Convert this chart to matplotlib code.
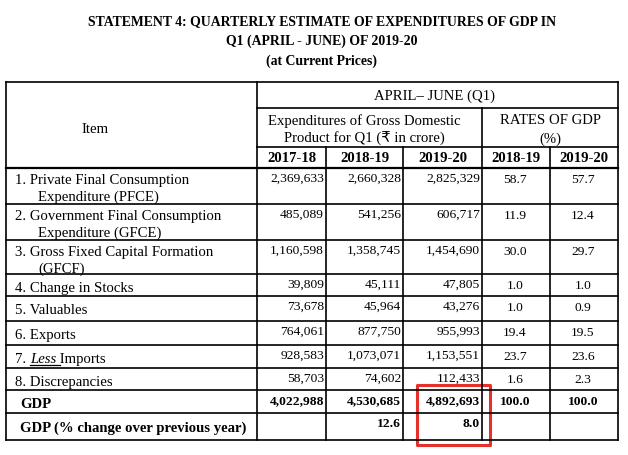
import matplotlib
matplotlib.use("Agg")
import matplotlib.pyplot as plt
from matplotlib.patches import Rectangle

plt.rcParams['font.family'] = ['Liberation Serif', 'DejaVu Sans']

# table contents
title_lines = ["STATEMENT 4: QUARTERLY ESTIMATE OF EXPENDITURES OF GDP IN",
               "Q1 (APRIL - JUNE) OF 2019-20",
               "(at Current Prices)"]
items = ["1. Private Final Consumption\nExpenditure (PFCE)",
         "2. Government Final Consumption\nExpenditure (GFCE)",
         "3. Gross Fixed Capital Formation\n(GFCF)",
         "4. Change in Stocks",
         "5. Valuables",
         "6. Exports",
         "7. Less Imports",
         "8. Discrepancies",
         "GDP",
         "GDP (% change over previous year)"]
years_gdp = ["2017-18", "2018-19", "2019-20"]
years_rate = ["2018-19", "2019-20"]
gdp_1718 = [2369633, 485089, 1160598, 39809, 73678, 764061, 928583, 58703, 4022988]
gdp_1819 = [2660328, 541256, 1358745, 45111, 45964, 877750, 1073071, 74602, 4530685]
gdp_1920 = [2825329, 606717, 1454690, 47805, 43276, 955993, 1153551, 112433, 4892693]
rate_1819 = [58.7, 11.9, 30.0, 1.0, 1.0, 19.4, 23.7, 1.6, 100.0]
rate_1920 = [57.7, 12.4, 29.7, 1.0, 0.9, 19.5, 23.6, 2.3, 100.0]
growth = [None, 12.6, 8.0]

# grid geometry (pixels)
col_x = [6, 257, 326, 403, 482, 550, 618]
row_y = [169, 205, 241, 275, 297, 322, 346, 369, 391, 414, 441]
top_y, q1_y, sub_y = 83, 109, 148

fig = plt.figure(figsize=(6.28, 4.56), dpi=100)
ax = fig.add_axes([0, 0, 1, 1])
ax.set_xlim(0, 628)
ax.set_ylim(456, 0)
ax.axis('off')

lw = 1.2
k = 'black'
# outer and header lines
ax.plot([col_x[0], col_x[-1]], [top_y, top_y], color=k, lw=lw)
ax.plot([col_x[1], col_x[-1]], [q1_y, q1_y], color=k, lw=lw)
ax.plot([col_x[1], col_x[-1]], [sub_y, sub_y], color=k, lw=lw)
for y in row_y:
    ax.plot([col_x[0], col_x[-1]], [y, y], color=k, lw=lw + (0.4 if y == row_y[0] else 0))
for x in (col_x[0], col_x[1], col_x[-1]):
    ax.plot([x, x], [top_y, row_y[-1]], color=k, lw=lw)
ax.plot([col_x[4], col_x[4]], [q1_y, row_y[-1]], color=k, lw=lw)
for x in (col_x[2], col_x[3], col_x[5]):
    ax.plot([x, x], [sub_y, row_y[-1]], color=k, lw=lw)

# title
for i, t in enumerate(title_lines):
    ax.text(322, 22 + i * 19.5, t, ha='center', va='center', fontsize=9.9,
            fontweight='bold')

fs = 10.6
ax.text(95, 130, "Item", ha='center', va='center', fontsize=fs)
ax.text(434, 96, "APRIL\u2013 JUNE (Q1)", ha='center', va='center', fontsize=fs)
ax.text(364, 121, "Expenditures of Gross Domestic", ha='center', va='center', fontsize=fs)
ax.text(364, 139, "Product for Q1 (\u20b9 in crore)", ha='center', va='center', fontsize=fs)
ax.text(550, 121, "RATES OF GDP", ha='center', va='center', fontsize=fs)
ax.text(550, 139, "(%)", ha='center', va='center', fontsize=fs)
for i, yr in enumerate(years_gdp + years_rate):
    ax.text((col_x[i + 1] + col_x[i + 2]) / 2, 159, yr, ha='center', va='center',
            fontsize=fs, fontweight='bold')

fig.canvas.draw()
renderer = fig.canvas.get_renderer()
inv = ax.transData.inverted()

# row labels
for r, label in enumerate(items):
    top = row_y[r]
    bold = r >= 8
    x0 = 20 if bold else 15
    lines = label.split("\n")
    if len(lines) == 2:
        ax.text(x0, top + 12, lines[0], ha='left', va='center', fontsize=fs)
        ax.text(38, top + 28, lines[1], ha='left', va='center', fontsize=fs)
    elif label.startswith("7."):
        t1 = ax.text(x0, top + 14, "7. ", ha='left', va='center', fontsize=fs)
        bb = t1.get_window_extent(renderer)
        xa = inv.transform((bb.x1, 0))[0]
        t2 = ax.text(xa, top + 14, "Less", ha='left', va='center', fontsize=fs,
                     style='italic')
        bb2 = t2.get_window_extent(renderer)
        xb = inv.transform((bb2.x1, 0))[0]
        ax.text(xb, top + 14, " Imports", ha='left', va='center', fontsize=fs)
        ax.plot([xa, inv.transform((bb2.x1 + 4, 0))[0]], [top + 20, top + 20],
                color=k, lw=0.9)
    else:
        ax.text(x0, top + 14, label, ha='left', va='center', fontsize=fs,
                fontweight='bold' if bold else 'normal')

# numbers
nfs = 9.7
for r in range(len(gdp_1718)):
    top = row_y[r]
    bold = r == 8
    w = 'bold' if bold else 'normal'
    for c, series in enumerate((gdp_1718, gdp_1819, gdp_1920)):
        ax.text(col_x[c + 2] - 2, top + 10, f"{series[r]:,}", ha='right',
                va='center', fontsize=nfs, fontweight=w)
    for c, series in enumerate((rate_1819, rate_1920)):
        ax.text((col_x[c + 4] + col_x[c + 5]) / 2 - 1, top + 11, f"{series[r]:.1f}",
                ha='center', va='center', fontsize=nfs, fontweight=w)

top = row_y[9]
for c, g in enumerate(growth):
    if g is not None:
        ax.text(col_x[c + 2] - 2, top + 10, f"{g:.1f}", ha='right', va='center',
                fontsize=nfs, fontweight='bold')

# red highlight box
ax.add_patch(Rectangle((417, 386), 73, 60, fill=False, edgecolor='#e8302a',
                       lw=2.2, joinstyle='round'))

fig.savefig("out.png", dpi=100)
